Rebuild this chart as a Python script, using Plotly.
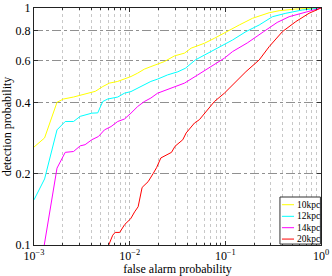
import plotly.graph_objects as go

# ---- data ----
pfa_10 = [0.001, 0.00129, 0.00174, 0.00203, 0.00258, 0.00316, 0.00437, 0.00523, 0.00614, 0.0075,
          0.00881, 0.01032, 0.01212, 0.01423, 0.01667, 0.01957, 0.02298, 0.02943, 0.03741, 0.04392,
          0.06043, 0.07682, 0.09763, 0.1101, 0.1399, 0.1925, 0.2873, 0.3652, 0.5451, 0.7499, 1.0]
pd_10 = [0.259, 0.283, 0.400, 0.413, 0.421, 0.430, 0.445, 0.466, 0.482, 0.490,
         0.501, 0.514, 0.531, 0.552, 0.566, 0.581, 0.594, 0.628, 0.645, 0.677,
         0.710, 0.745, 0.787, 0.808, 0.848, 0.905, 0.955, 0.974, 0.990, 0.995, 1.0]

pfa_12 = [0.001, 0.00129, 0.00174, 0.00212, 0.00259, 0.00304, 0.00402, 0.00464, 0.00523, 0.0059,
          0.0075, 0.00881, 0.01032, 0.01212, 0.01423, 0.01667, 0.01957, 0.02488, 0.03185, 0.03831,
          0.0487, 0.07096, 0.09763, 0.1191, 0.1643, 0.2261, 0.311, 0.4289, 0.6386, 1.0]
pd_12 = [0.155, 0.190, 0.306, 0.332, 0.332, 0.349, 0.360, 0.361, 0.403, 0.413,
         0.421, 0.437, 0.444, 0.459, 0.474, 0.490, 0.501, 0.522, 0.538, 0.557,
         0.604, 0.655, 0.699, 0.733, 0.795, 0.848, 0.919, 0.950, 0.981, 1.0]

pfa_14 = [0.00128, 0.00174, 0.00212, 0.00259, 0.00304, 0.00342, 0.00402, 0.00472, 0.00545, 0.00639,
          0.0075, 0.00881, 0.01032, 0.01212, 0.01423, 0.01667, 0.01957, 0.02488, 0.03741, 0.05146,
          0.07096, 0.09763, 0.1191, 0.1695, 0.2518, 0.3481, 0.4642, 0.6043, 1.0]
pd_14 = [0.100, 0.211, 0.246, 0.248, 0.262, 0.265, 0.278, 0.287, 0.306, 0.316,
         0.332, 0.340, 0.360, 0.384, 0.403, 0.417, 0.437, 0.452, 0.482, 0.522,
         0.566, 0.614, 0.655, 0.712, 0.795, 0.869, 0.919, 0.948, 1.0]

pfa_20 = [0.00604, 0.00665, 0.00706, 0.00787, 0.00887, 0.01024, 0.01127, 0.01226, 0.0135, 0.01559,
          0.01757, 0.01911, 0.02118, 0.02488, 0.02738, 0.02979, 0.03591, 0.03896, 0.04754, 0.05361,
          0.06542, 0.07682, 0.09763, 0.1191, 0.1643, 0.2261, 0.2873, 0.3954, 0.5451, 0.7499, 1.0]
pd_20 = [0.100, 0.110, 0.113, 0.113, 0.122, 0.129, 0.138, 0.145, 0.175, 0.185,
         0.200, 0.212, 0.233, 0.240, 0.246, 0.261, 0.278, 0.297, 0.327, 0.338,
         0.372, 0.403, 0.437, 0.474, 0.539, 0.604, 0.687, 0.795, 0.876, 0.950, 1.0]

series = [
    ("10kpc", pfa_10, pd_10, "#FFFF00"),
    ("12kpc", pfa_12, pd_12, "#00FFFF"),
    ("14kpc", pfa_14, pd_14, "#FF00FF"),
    ("20kpc", pfa_20, pd_20, "#FF0000"),
]

x_major = [1e-3, 1e-2, 1e-1, 1.0]
x_major_text = ["10<sup>\u22123</sup>", "10<sup>\u22122</sup>", "10<sup>\u22121</sup>", "10<sup>0</sup>"]
x_minor = [m * d for d in (1e-3, 1e-2, 1e-1) for m in range(2, 10)]
y_ticks = [0.1, 0.2, 0.4, 0.6, 0.8, 1.0]
y_text = ["0.1", "0.2", "0.4", "0.6", "0.8", "1"]

FONT = "Liberation Serif, Times New Roman, serif"

fig = go.Figure()
for name, xs, ys, col in series:
    fig.add_trace(go.Scatter(x=xs, y=ys, mode="lines", name=name,
                             line=dict(color=col, width=1), showlegend=False))

fig.update_layout(
    width=332, height=276,
    margin=dict(l=34, r=11, t=8, b=31),
    paper_bgcolor="white", plot_bgcolor="white",
    font=dict(family=FONT, size=12, color="black"),
)
fig.update_xaxes(
    type="log", range=[-3, 0], tickmode="array", tickvals=x_major, ticktext=x_major_text,
    showgrid=True, gridcolor="#c0c0c0", griddash="dot", gridwidth=1,
    minor=dict(tickmode="array", tickvals=x_minor, showgrid=True, gridcolor="#c8c8c8",
               griddash="dot", ticks="inside", ticklen=2, tickcolor="#333"),
    ticks="inside", ticklen=4, tickcolor="#333",
    showline=True, linecolor="#222", linewidth=1, mirror="allticks",
    tickfont=dict(size=12), automargin=False,
    title=dict(text="false alarm probability", font=dict(size=12), standoff=4),
    zeroline=False,
)
fig.update_yaxes(
    type="log", range=[-1, 0], tickmode="array", tickvals=y_ticks, ticktext=y_text,
    showgrid=True, gridcolor="#909090", griddash="dashdot", gridwidth=1,
    ticks="inside", ticklen=4, tickcolor="#333",
    showline=True, linecolor="#222", linewidth=1, mirror="allticks",
    tickfont=dict(size=12), automargin=False,
    title=dict(text="detection probability", font=dict(size=12), standoff=5),
    zeroline=False,
)

# ---- legend drawn as a boxed key in the lower right ----
x0, x1 = 0.857, 0.998
y0, y1 = 0.004, 0.2025
fig.add_shape(type="rect", xref="paper", yref="paper", x0=x0, x1=x1, y0=y0, y1=y1,
              line=dict(color="#333", width=1), fillcolor="white", layer="above")
rows = [0.170, 0.121, 0.073, 0.025]
for (name, _, _, col), yy in zip(series, rows):
    fig.add_shape(type="line", xref="paper", yref="paper", x0=0.864, x1=0.906, y0=yy, y1=yy,
                  line=dict(color=col, width=1), layer="above")
    fig.add_annotation(xref="paper", yref="paper", x=0.908, y=yy, text=name, showarrow=False,
                       xanchor="left", yanchor="middle", font=dict(size=9.5, family=FONT))

# remove the default 8px page margin so the figure fills the window exactly
fig.write_html("out.html", config={"displayModeBar": False},
               post_script="document.body.style.margin='0';")
